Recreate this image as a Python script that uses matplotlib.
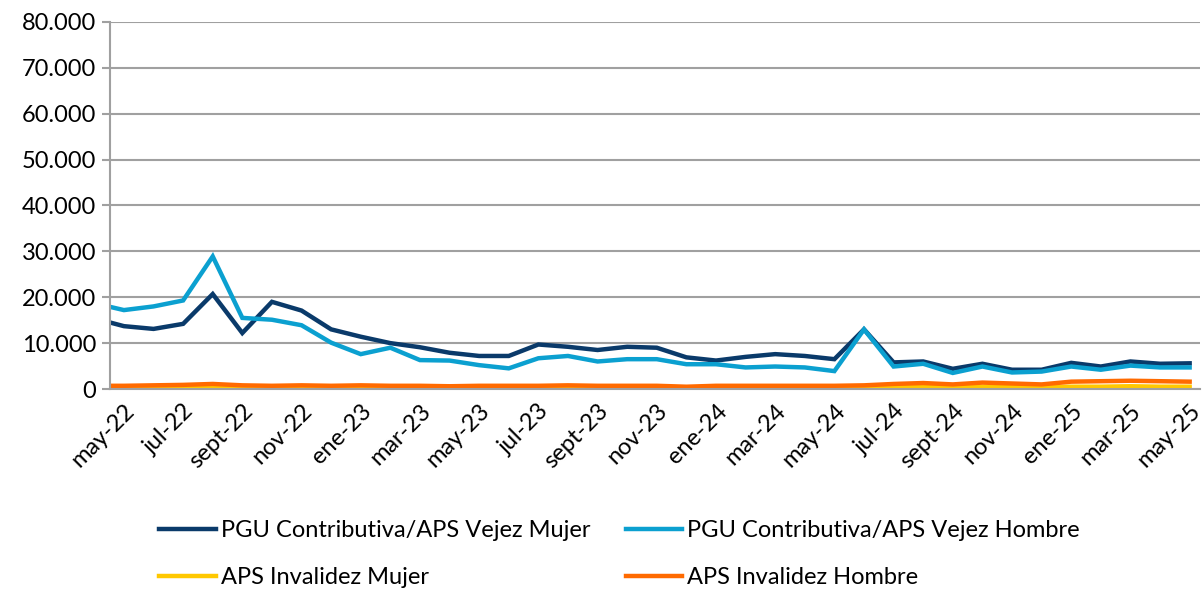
import matplotlib.pyplot as plt
import numpy as np

plt.rcParams['font.family'] = ['Lato', 'DejaVu Sans']

# meses abr-22 .. may-25 (abr-22 queda fuera del eje, solo se ve el tramo inicial)
meses = ['abr-22', 'may-22', 'jun-22', 'jul-22', 'ago-22', 'sept-22', 'oct-22', 'nov-22', 'dic-22',
         'ene-23', 'feb-23', 'mar-23', 'abr-23', 'may-23', 'jun-23', 'jul-23', 'ago-23', 'sept-23',
         'oct-23', 'nov-23', 'dic-23', 'ene-24', 'feb-24', 'mar-24', 'abr-24', 'may-24', 'jun-24',
         'jul-24', 'ago-24', 'sept-24', 'oct-24', 'nov-24', 'dic-24', 'ene-25', 'feb-25', 'mar-25',
         'abr-25', 'may-25']

vejez_mujer = [15.4, 13.7, 13.1, 14.2, 20.7, 12.2, 19.0, 17.1, 13.0, 11.4, 10.0, 9.1, 7.9, 7.2,
               7.2, 9.7, 9.2, 8.5, 9.2, 9.0, 6.9, 6.2, 7.0, 7.6, 7.2, 6.5, 13.0, 5.8, 6.0, 4.4,
               5.5, 4.2, 4.2, 5.7, 4.9, 6.0, 5.5, 5.6]
vejez_hombre = [18.7, 17.2, 18.0, 19.3, 28.9, 15.5, 15.1, 13.9, 10.1, 7.6, 9.0, 6.3, 6.2, 5.2,
                4.5, 6.7, 7.2, 6.0, 6.5, 6.5, 5.4, 5.4, 4.7, 4.9, 4.7, 3.9, 13.0, 4.9, 5.5, 3.5,
                4.9, 3.6, 3.8, 4.9, 4.2, 5.1, 4.7, 4.7]
inv_mujer = [0.2, 0.2, 0.2, 0.3, 0.4, 0.3, 0.2, 0.3, 0.2, 0.3, 0.2, 0.2, 0.2, 0.2,
             0.2, 0.2, 0.3, 0.2, 0.2, 0.2, 0.2, 0.2, 0.2, 0.2, 0.2, 0.2, 0.3, 0.4, 0.5, 0.4,
             0.5, 0.4, 0.4, 0.5, 0.5, 0.6, 0.5, 0.5]
inv_hombre = [0.7, 0.7, 0.8, 0.9, 1.1, 0.8, 0.7, 0.8, 0.7, 0.8, 0.7, 0.7, 0.6, 0.7,
              0.7, 0.7, 0.8, 0.7, 0.7, 0.7, 0.5, 0.7, 0.7, 0.7, 0.7, 0.7, 0.8, 1.1, 1.3, 1.0,
              1.4, 1.2, 1.0, 1.6, 1.7, 1.8, 1.7, 1.6]

x = np.arange(len(meses)) - 1
mil = 1000

fig = plt.figure(figsize=(12.03, 5.91), dpi=100)
ax = fig.add_axes([110/1203, 1-389/591, (1200-110)/1203, (389-22)/591])

l1, = ax.plot(x, np.array(vejez_mujer)*mil, color='#0A3A6A', lw=3.2, solid_joinstyle='miter')
l2, = ax.plot(x, np.array(vejez_hombre)*mil, color='#0BA0D0', lw=3.2, solid_joinstyle='miter')
l3, = ax.plot(x, np.array(inv_mujer)*mil, color='#FFC800', lw=3.2)
l4, = ax.plot(x, np.array(inv_hombre)*mil, color='#FF6A00', lw=3.2)

ax.set_xlim(-0.47, 36.35)
ax.set_ylim(0, 80000)
ax.set_yticks(np.arange(0, 80001, 10000))
ax.set_yticklabels([f'{v:,}'.replace(',', '.') for v in range(0, 80001, 10000)], fontsize=17)
ax.set_xticks(x[1::2])
ax.set_xticklabels(meses[1::2], rotation=45, ha='right', rotation_mode='anchor', fontsize=17)
ax.grid(axis='y', color='#A0A0A0', lw=1.5)
ax.set_axisbelow(True)
for s in ['top', 'right']:
    ax.spines[s].set_visible(False)
for s in ['left', 'bottom']:
    ax.spines[s].set_color('#A0A0A0')
    ax.spines[s].set_linewidth(1.5)
ax.tick_params(axis='y', length=6, color='#A0A0A0', width=1.5, pad=4)
ax.tick_params(axis='x', length=0, pad=8)

fig.legend([l1, l3, l2, l4],
           ['PGU Contributiva/APS Vejez Mujer', 'APS Invalidez Mujer',
            'PGU Contributiva/APS Vejez Hombre', 'APS Invalidez Hombre'],
           ncol=2, loc='upper left', bbox_to_anchor=(150/1203, 1-511/591), frameon=False,
           fontsize=17, handlelength=2.4, handletextpad=0.2, columnspacing=1.5,
           labelspacing=1.1, borderaxespad=0)

plt.savefig('out.png')
